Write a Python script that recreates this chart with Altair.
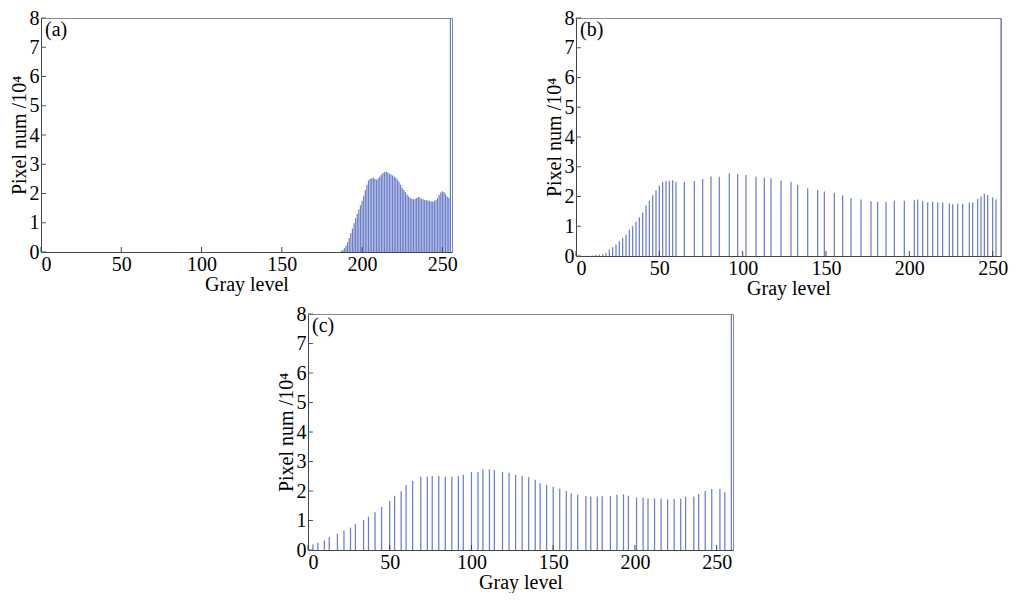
import altair as alt
import pandas as pd

# ---------------- data ----------------
x_ticks = [0, 50, 100, 150, 200, 250]
y_ticks = [0, 1, 2, 3, 4, 5, 6, 7, 8]

a_levels = [187, 188, 189, 190, 191, 192, 193, 194, 195, 196, 197, 198, 199, 200,
            201, 202, 203, 204, 205, 206, 207, 208, 209, 210, 211, 212, 213, 214,
            215, 216, 217, 218, 219, 220, 221, 222, 223, 224, 225, 226, 227, 228,
            229, 230, 231, 232, 233, 234, 235, 236, 237, 238, 239, 240, 241, 242,
            243, 244, 245, 246, 247, 248, 249, 250, 251, 252, 253, 254, 255]
a_values = [0.03, 0.07, 0.13, 0.22, 0.33, 0.48, 0.65, 0.8, 0.98, 1.15, 1.3, 1.45, 1.6, 1.75,
            1.92, 2.12, 2.3, 2.45, 2.5, 2.52, 2.54, 2.5, 2.47, 2.52, 2.58, 2.64, 2.7, 2.73,
            2.75, 2.72, 2.68, 2.65, 2.62, 2.58, 2.54, 2.48, 2.4, 2.3, 2.2, 2.12, 2.05, 1.97,
            1.9, 1.85, 1.82, 1.8, 1.82, 1.85, 1.88, 1.86, 1.82, 1.8, 1.78, 1.77, 1.76, 1.75,
            1.73, 1.72, 1.74, 1.78, 1.85, 1.95, 2.03, 2.08, 2.05, 1.98, 1.9, 1.85, 9.0]

b_levels = [6, 8, 10, 12, 14, 16, 18, 20, 22, 24, 26, 28, 30, 32, 34, 36, 38, 40, 42, 44,
            46, 48, 50, 52, 54, 56, 58, 60, 65, 71, 76, 81, 86, 92, 97, 102, 108, 113, 117,
            123, 129, 133, 139, 145, 149, 155, 160, 165, 171, 177, 181, 186, 191, 197, 203,
            205, 208, 211, 214, 217, 220, 224, 226, 229, 232, 236, 238, 241, 243, 245, 247,
            250, 252, 255]
b_values = [0.01, 0.01, 0.02, 0.03, 0.04, 0.06, 0.1, 0.22, 0.29, 0.39, 0.5, 0.61, 0.72, 0.88,
            1.0, 1.15, 1.3, 1.46, 1.7, 1.86, 2.04, 2.21, 2.37, 2.5, 2.52, 2.53, 2.55, 2.5,
            2.5, 2.52, 2.59, 2.67, 2.66, 2.77, 2.76, 2.72, 2.66, 2.64, 2.61, 2.54, 2.5, 2.39,
            2.28, 2.22, 2.17, 2.12, 2.04, 1.95, 1.9, 1.84, 1.82, 1.82, 1.86, 1.86, 1.87, 1.9,
            1.86, 1.8, 1.82, 1.8, 1.8, 1.77, 1.74, 1.76, 1.76, 1.8, 1.8, 1.92, 2.0, 2.09,
            2.05, 1.97, 1.9, 9.0]

c_levels = [3, 6, 10, 13, 18, 22, 26, 29, 34, 37, 41, 45, 50, 53, 57, 60, 64, 69, 73, 76,
            80, 84, 88, 92, 95, 100, 104, 107, 111, 114, 119, 123, 127, 131, 135, 139, 142,
            146, 150, 154, 158, 161, 165, 170, 173, 177, 180, 185, 189, 193, 196, 201, 205,
            208, 212, 216, 220, 224, 228, 231, 236, 239, 243, 247, 252, 255, 259]
c_values = [0.19, 0.25, 0.32, 0.43, 0.55, 0.66, 0.76, 0.88, 1.02, 1.13, 1.28, 1.46, 1.66, 1.84,
            1.99, 2.2, 2.34, 2.48, 2.48, 2.51, 2.51, 2.48, 2.48, 2.5, 2.55, 2.64, 2.64, 2.73,
            2.73, 2.71, 2.64, 2.62, 2.55, 2.51, 2.47, 2.38, 2.26, 2.2, 2.14, 2.08, 2.0, 1.92,
            1.87, 1.83, 1.81, 1.81, 1.82, 1.83, 1.87, 1.89, 1.84, 1.78, 1.78, 1.75, 1.75,
            1.75, 1.72, 1.73, 1.74, 1.8, 1.81, 1.9, 2.0, 2.07, 2.07, 1.96, 9.0]

FONT = "Liberation Serif"
STEM = "#6c7fca"


def panel(levels, values, tag, xmax, W, H):
    df = pd.DataFrame({"g": levels, "v": values})
    x_enc = alt.X("g:Q", scale=alt.Scale(domain=[0, xmax], nice=False, zero=False),
                  axis=alt.Axis(values=x_ticks, title="Gray level", format="d"))
    y_enc = alt.Y("v:Q", scale=alt.Scale(domain=[0, 8], nice=False),
                  axis=alt.Axis(values=y_ticks, title="Pixel num /10\u2074", format="d"))
    stems = alt.Chart(df).mark_rule(color=STEM, strokeWidth=1.25, clip=True).encode(
        x=x_enc, y=y_enc, y2=alt.datum(0))
    ytk = alt.Chart(pd.DataFrame({"v": y_ticks})).mark_rule(color="#555", strokeWidth=1).encode(
        y=y_enc, x=alt.value(0), x2=alt.value(5))
    xtk = alt.Chart(pd.DataFrame({"g": x_ticks})).mark_rule(color="#444", strokeWidth=1).encode(
        x=x_enc, y=alt.value(H), y2=alt.value(H - 5))
    lab = alt.Chart(pd.DataFrame({"lab": [tag]})).mark_text(
        font=FONT, fontSize=20, align="left", baseline="middle", color="black").encode(
        x=alt.value(4), y=alt.value(12), text="lab:N")
    return alt.layer(stems, ytk, xtk, lab).properties(width=W, height=H)


pa = panel(a_levels, a_values, "(a)", 256, 411, 234)
pb = panel(b_levels, b_values, "(b)", 255, 425, 238)
pc = panel(c_levels, c_values, "(c)", 260, 425, 236)

spacer = alt.Chart(pd.DataFrame({"s": [0]})).mark_point(opacity=0).encode(
    x=alt.value(0), y=alt.value(0)
).properties(width=234, height=10, view=alt.ViewBackground(strokeOpacity=0))

top = alt.hconcat(pa, pb, spacing=85)
bottom = alt.hconcat(spacer, pc, spacing=0)
chart = alt.vconcat(top, bottom, spacing=4).properties(
    padding={"left": 0, "top": -1, "right": 0, "bottom": 0}
).configure_view(
    stroke="#8a8a8a", strokeWidth=1
).configure_axis(
    labelFont=FONT, titleFont=FONT, labelFontSize=20, titleFontSize=20,
    titleFontWeight="normal", labelColor="black", titleColor="black",
    tickSize=0, grid=False, domainColor="#444", labelPadding=2, titlePadding=0
)

chart.save("out.html", embed_options={"renderer": "svg", "actions": False})
